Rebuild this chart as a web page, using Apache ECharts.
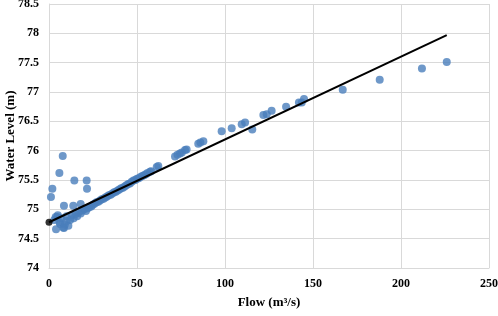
<!DOCTYPE html>
<html>
<head>
<meta charset="utf-8">
<script src="https://cdn.jsdelivr.net/npm/echarts@6/dist/echarts.min.js"></script>
<style>
  html, body { margin: 0; padding: 0; background: #fff; }
  #chart { width: 498px; height: 316px; }
</style>
</head>
<body>
<div id="chart"></div>
<script>
// observed points (flow m3/s, water level m)
var flowLevel = [
  [1.1, 75.21], [1.9, 75.35], [5.9, 75.62], [7.8, 75.91], [14.4, 75.49],
  [21.4, 75.49], [21.6, 75.35], [8.5, 75.06], [13.8, 75.06], [18, 75.09],
  [3.8, 74.87], [4, 74.66], [6.3, 74.75], [8.1, 74.69], [4.7, 74.87], [8.5, 74.68],
  [3, 74.82], [5, 74.9], [6, 74.78], [7, 74.85], [9, 74.74], [10, 74.8], [10, 74.88],
  [11, 74.72], [12, 74.82], [13, 74.9], [14, 74.85], [15, 74.92], [16, 74.88],
  [17, 74.95], [18, 74.93], [19, 74.98], [20, 75.0], [21, 74.97], [22, 75.02],
  [23, 75.04], [24, 75.05], [25, 75.08], [26, 75.1], [27, 75.12], [28, 75.13],
  [29, 75.15], [30, 75.17], [31, 75.18], [32, 75.2], [33, 75.22], [34, 75.24],
  [35, 75.25], [36, 75.27], [37, 75.29], [38, 75.3], [39, 75.32], [40, 75.34],
  [41, 75.36], [42, 75.37], [43, 75.39], [44, 75.41], [45, 75.43], [46, 75.44],
  [47, 75.47], [48, 75.49], [49, 75.5], [50, 75.52], [51, 75.53], [52, 75.55],
  [53, 75.57], [54, 75.58], [55, 75.6], [56, 75.62], [57.4, 75.64], [58, 75.65],
  [61.2, 75.72], [62.1, 75.74], [71.6, 75.9], [73, 75.93], [74.4, 75.95],
  [75.5, 75.97], [77.3, 76.01], [78.2, 76.02], [84.8, 76.12], [86, 76.14],
  [87.7, 76.16], [98.1, 76.33], [103.8, 76.38], [109.5, 76.45], [111.4, 76.48],
  [115.5, 76.36], [121.8, 76.61], [123.7, 76.62], [126.5, 76.68], [134.7, 76.75],
  [142, 76.82], [143.6, 76.82], [144.9, 76.88], [166.9, 77.04], [187.9, 77.21],
  [211.9, 77.4], [226, 77.51]
]
// fitted line ends
var fitLine = [[0, 74.78], [226, 77.97]]

var xTicks = [0, 50, 100, 150, 200, 250]
var yMin = 74
var yMax = 78.5

var myChart = echarts.init(document.getElementById('chart'))
var fontFam = '"Liberation Serif", "Times New Roman", serif'

var option = {
  animation: false,
  grid: { left: 49, right: 9, top: 4, bottom: 48, outerBoundsMode: 'none', containLabel: false },
  xAxis: {
    type: 'value',
    min: xTicks[0],
    max: xTicks[xTicks.length - 1],
    interval: 50,
    name: 'Flow (m³/s)',
    nameLocation: 'middle',
    nameGap: 28,
    nameMoveOverlap: false,
    nameTextStyle: { fontFamily: fontFam, fontWeight: 'bold', fontSize: 13, color: '#000' },
    axisLine: { lineStyle: { color: '#d9d9d9' } },
    axisTick: { show: false },
    axisLabel: { fontFamily: fontFam, fontWeight: 'bold', fontSize: 12, color: '#000', margin: 10 },
    splitLine: { lineStyle: { color: '#d9d9d9' } }
  },
  yAxis: {
    type: 'value',
    min: yMin,
    max: yMax,
    interval: 0.5,
    name: 'Water Level (m)',
    nameLocation: 'middle',
    nameGap: 32,
    nameMoveOverlap: false,
    nameTextStyle: { fontFamily: fontFam, fontWeight: 'bold', fontSize: 13, color: '#000' },
    axisLine: { show: true, lineStyle: { color: '#d9d9d9' } },
    axisTick: { show: false },
    axisLabel: { fontFamily: fontFam, fontWeight: 'bold', fontSize: 12, color: '#000', margin: 10 },
    splitLine: { lineStyle: { color: '#d9d9d9' } }
  },
  series: [
    {
      type: 'scatter',
      data: flowLevel,
      symbolSize: 8,
      itemStyle: { color: '#4a7ebb' }
    },
    {
      type: 'line',
      data: fitLine,
      symbol: 'none',
      lineStyle: { color: '#000', width: 2 }
    },
    {
      type: 'scatter',
      data: [fitLine[0]],
      symbolSize: 7,
      itemStyle: { color: '#000' }
    }
  ]
}

myChart.setOption(option)
window.addEventListener('resize', function () {
  myChart.resize()
})
</script>
</body>
</html>
